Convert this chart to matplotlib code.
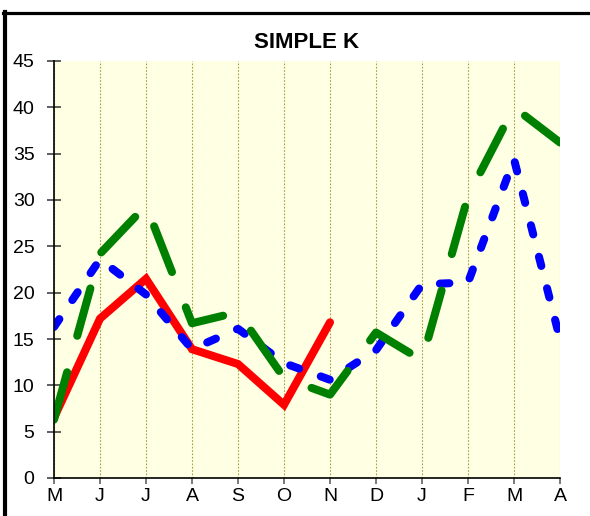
import matplotlib

matplotlib.use("Agg")
import matplotlib.pyplot as plt
from matplotlib.lines import Line2D

# data
months = ["M", "J", "J", "A", "S", "O", "N", "D", "J", "F", "M", "A"]
red_vals = [6.5, 17.2, 21.5, 13.9, 12.3, 7.9, 16.8]
blue_vals = [16.3, 23.6, 19.8, 13.9, 16.1, 12.4, 10.6, 13.8, 20.9, 21.1, 34.4, 15.0]
green_vals = [6.3, 24.2, 29.4, 16.7, 17.9, 10.8, 9.0, 15.7, 12.7, 30.4, 40.0, 36.2]

W, H = 590, 516
FONT = ["Liberation Sans Narrow", "Liberation Sans", "DejaVu Sans"]
plt.rcParams["font.family"] = FONT

fig = plt.figure(figsize=(W / 100, H / 100), dpi=100)
ax = fig.add_axes([54 / W, (H - 478) / H, 506 / W, 417 / H])
ax.set_facecolor("#ffffe4")

x = list(range(len(months)))
LW = 5.8
ax.plot(x[: len(red_vals)], red_vals, color="#ff0000", lw=LW,
        solid_capstyle="round", solid_joinstyle="miter", zorder=3)
ax.plot(x, blue_vals, color="#0000ff", lw=LW, linestyle=(0, (1.18, 2.86)),
        dash_capstyle="round", dash_joinstyle="round", zorder=4)
ax.plot(x, green_vals, color="#008000", lw=LW, linestyle=(0, (6.1, 4.7)),
        dash_capstyle="round", dash_joinstyle="round", zorder=5)

ax.set_xlim(0, len(months) - 1)
ax.set_ylim(0, 45)
ax.set_xticks(x)
ax.set_xticklabels(months)
ax.set_yticks(range(0, 46, 5))
ax.grid(axis="x", color="#a8a040", lw=0.8, linestyle=(0, (1.5, 1.5)))
ax.set_axisbelow(True)

for s in ("top", "right"):
    ax.spines[s].set_visible(False)
for s in ("left", "bottom"):
    ax.spines[s].set_linewidth(1.2)
    ax.spines[s].set_zorder(6)

ax.tick_params(axis="y", direction="inout", length=10, width=1.1,
               color="#333333", pad=9, labelsize=14)
ax.tick_params(axis="x", direction="out", length=4.5, width=1.1,
               color="#555555", pad=2.5, labelsize=14)

ax.set_title("SIMPLE K", fontsize=16, fontweight="bold", pad=9)

# outer frame, partly cropped
fig.add_artist(Line2D([5 / W, 5 / W], [0, 1 - 12 / H], color="black", lw=3,
                      transform=fig.transFigure))
fig.add_artist(Line2D([3 / W, 1], [1 - 13 / H, 1 - 13 / H], color="black", lw=2.3,
                      transform=fig.transFigure))

fig.savefig("out.png", dpi=100)
